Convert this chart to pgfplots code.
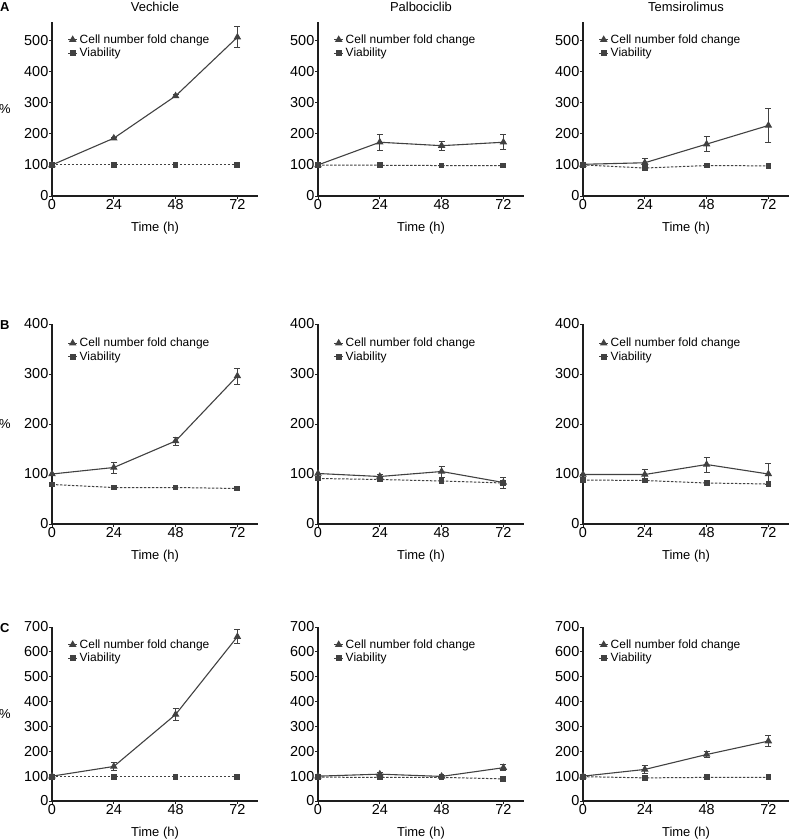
\documentclass[border=0pt]{standalone}
\usepackage{pgfplots}
\pgfplotsset{compat=1.18}
\usepackage{fontspec}
\setmainfont{Liberation Sans}
\definecolor{lc}{RGB}{65,65,65}
\definecolor{ax}{RGB}{30,30,30}
\pgfplotsset{
  panel/.style={
    scale only axis, width=206bp,
    xmin=0, xmax=80, xtick={0,24,48,72}, ymin=0,
    axis lines=left, axis line style={-, line width=1.3bp, ax},
    tick style={line width=0.9bp, ax}, major tick length=3bp, tick align=outside,
    /pgf/number format/assume math mode=true,
    ticklabel style={font=\fontsize{14.5}{14.5}\selectfont, inner sep=0.5bp},
    xlabel={Time (h)},
    every axis x label/.style={at={(axis description cs:0.5,0)}, anchor=base, yshift=-35bp, font=\fontsize{13}{13}\selectfont},
    every axis title/.style={at={(axis description cs:0.5,1)}, anchor=base, yshift=11bp, font=\fontsize{13}{13}\selectfont},
    legend style={draw=none, fill=none, at={(0.075,0.94)}, anchor=north west, font=\fontsize{12}{12}\selectfont, row sep=-0.5bp, inner sep=0pt},
    legend cell align=left,
    legend image code/.code={\draw[mark repeat=2,mark phase=2,#1] plot coordinates {(0bp,0bp) (4.5bp,0bp) (9bp,0bp)};},
  },
  firstcol/.style={ylabel={\%}, every axis y label/.style={at={(axis description cs:0,0.5)}, anchor=center, xshift=-47bp, font=\fontsize{13}{13}\selectfont}},
  cell/.style={lc, line width=1.1bp, mark=triangle*, mark size=3.3bp, mark options={solid, fill=lc},
    error bars/.cd, y dir=both, y explicit, error bar style={line width=0.9bp, lc}, error mark options={rotate=90, mark size=3bp, line width=0.9bp, lc}},
  via/.style={lc, line width=1bp, dash pattern=on 2.5bp off 1.5bp, mark=square*, mark size=2.4bp, mark options={solid, fill=lc}},
}
\begin{document}
\begin{tikzpicture}
\useasboundingbox (0,0) rectangle (792bp,-840bp);
\node[anchor=base west, font=\bfseries\fontsize{13}{13}\selectfont, inner sep=0pt] at (0bp,-11bp) {A};
\node[anchor=base west, font=\bfseries\fontsize{13}{13}\selectfont, inner sep=0pt] at (0bp,-329bp) {B};
\node[anchor=base west, font=\bfseries\fontsize{13}{13}\selectfont, inner sep=0pt] at (0bp,-632bp) {C};
% ---------- Row A ----------
\begin{axis}[panel, firstcol, at={(52bp,-196bp)}, anchor=south west, height=174bp, ymax=560, ytick={0,100,...,500}, title={Vechicle}]
\addplot+[cell] coordinates {(0,100) +- (0,0) (24,186) +- (0,4) (48,322) +- (0,4) (72,511) +- (0,34)};
\addplot+[via] coordinates {(0,100) (24,100) (48,100) (72,100)};
\legend{Cell number fold change, Viability}
\end{axis}
\begin{axis}[panel, at={(318bp,-196bp)}, anchor=south west, height=174bp, ymax=560, ytick={0,100,...,500}, title={Palbociclib}]
\addplot+[cell] coordinates {(0,100) +- (0,0) (24,173) +- (0,25) (48,162) +- (0,15) (72,173) +- (0,24)};
\addplot+[via] coordinates {(0,99) (24,99) (48,98) (72,98)};
\legend{Cell number fold change, Viability}
\end{axis}
\begin{axis}[panel, at={(583bp,-196bp)}, anchor=south west, height=174bp, ymax=560, ytick={0,100,...,500}, title={Temsirolimus}]
\addplot+[cell] coordinates {(0,102) +- (0,0) (24,107) +- (0,15) (48,167) +- (0,25) (72,227) +- (0,55)};
\addplot+[via] coordinates {(0,100) (24,90) (48,98) (72,97)};
\legend{Cell number fold change, Viability}
\end{axis}
% ---------- Row B ----------
\begin{axis}[panel, firstcol, at={(52bp,-524bp)}, anchor=south west, height=200bp, ymax=400, ytick={0,100,...,400}]
\addplot+[cell] coordinates {(0,100) +- (0,0) (24,113) +- (0,11) (48,166) +- (0,8) (72,296) +- (0,16)};
\addplot+[via] coordinates {(0,79) (24,73) (48,73) (72,71)};
\legend{Cell number fold change, Viability}
\end{axis}
\begin{axis}[panel, at={(318bp,-524bp)}, anchor=south west, height=200bp, ymax=400, ytick={0,100,...,400}]
\addplot+[cell] coordinates {(0,101) +- (0,0) (24,95) +- (0,5) (48,105) +- (0,11) (72,83) +- (0,11)};
\addplot+[via] coordinates {(0,91) (24,89) (48,86) (72,82)};
\legend{Cell number fold change, Viability}
\end{axis}
\begin{axis}[panel, at={(583bp,-524bp)}, anchor=south west, height=200bp, ymax=400, ytick={0,100,...,400}]
\addplot+[cell] coordinates {(0,99) +- (0,0) (24,99) +- (0,10) (48,119) +- (0,15) (72,100) +- (0,21)};
\addplot+[via] coordinates {(0,88) (24,87) (48,82) (72,80)};
\legend{Cell number fold change, Viability}
\end{axis}
% ---------- Row C ----------
\begin{axis}[panel, firstcol, at={(52bp,-801bp)}, anchor=south west, height=174bp, ymax=700, ytick={0,100,...,700}]
\addplot+[cell] coordinates {(0,100) +- (0,0) (24,139) +- (0,15) (48,348) +- (0,25) (72,661) +- (0,29)};
\addplot+[via] coordinates {(0,97) (24,97) (48,97) (72,97)};
\legend{Cell number fold change, Viability}
\end{axis}
\begin{axis}[panel, at={(318bp,-801bp)}, anchor=south west, height=174bp, ymax=700, ytick={0,100,...,700}]
\addplot+[cell] coordinates {(0,100) +- (0,0) (24,108) +- (0,5) (48,99) +- (0,4) (72,134) +- (0,13)};
\addplot+[via] coordinates {(0,96) (24,95) (48,95) (72,89)};
\legend{Cell number fold change, Viability}
\end{axis}
\begin{axis}[panel, at={(583bp,-801bp)}, anchor=south west, height=174bp, ymax=700, ytick={0,100,...,700}]
\addplot+[cell] coordinates {(0,100) +- (0,0) (24,127) +- (0,16) (48,187) +- (0,13) (72,241) +- (0,22)};
\addplot+[via] coordinates {(0,98) (24,93) (48,95) (72,95)};
\legend{Cell number fold change, Viability}
\end{axis}
\end{tikzpicture}
\end{document}
